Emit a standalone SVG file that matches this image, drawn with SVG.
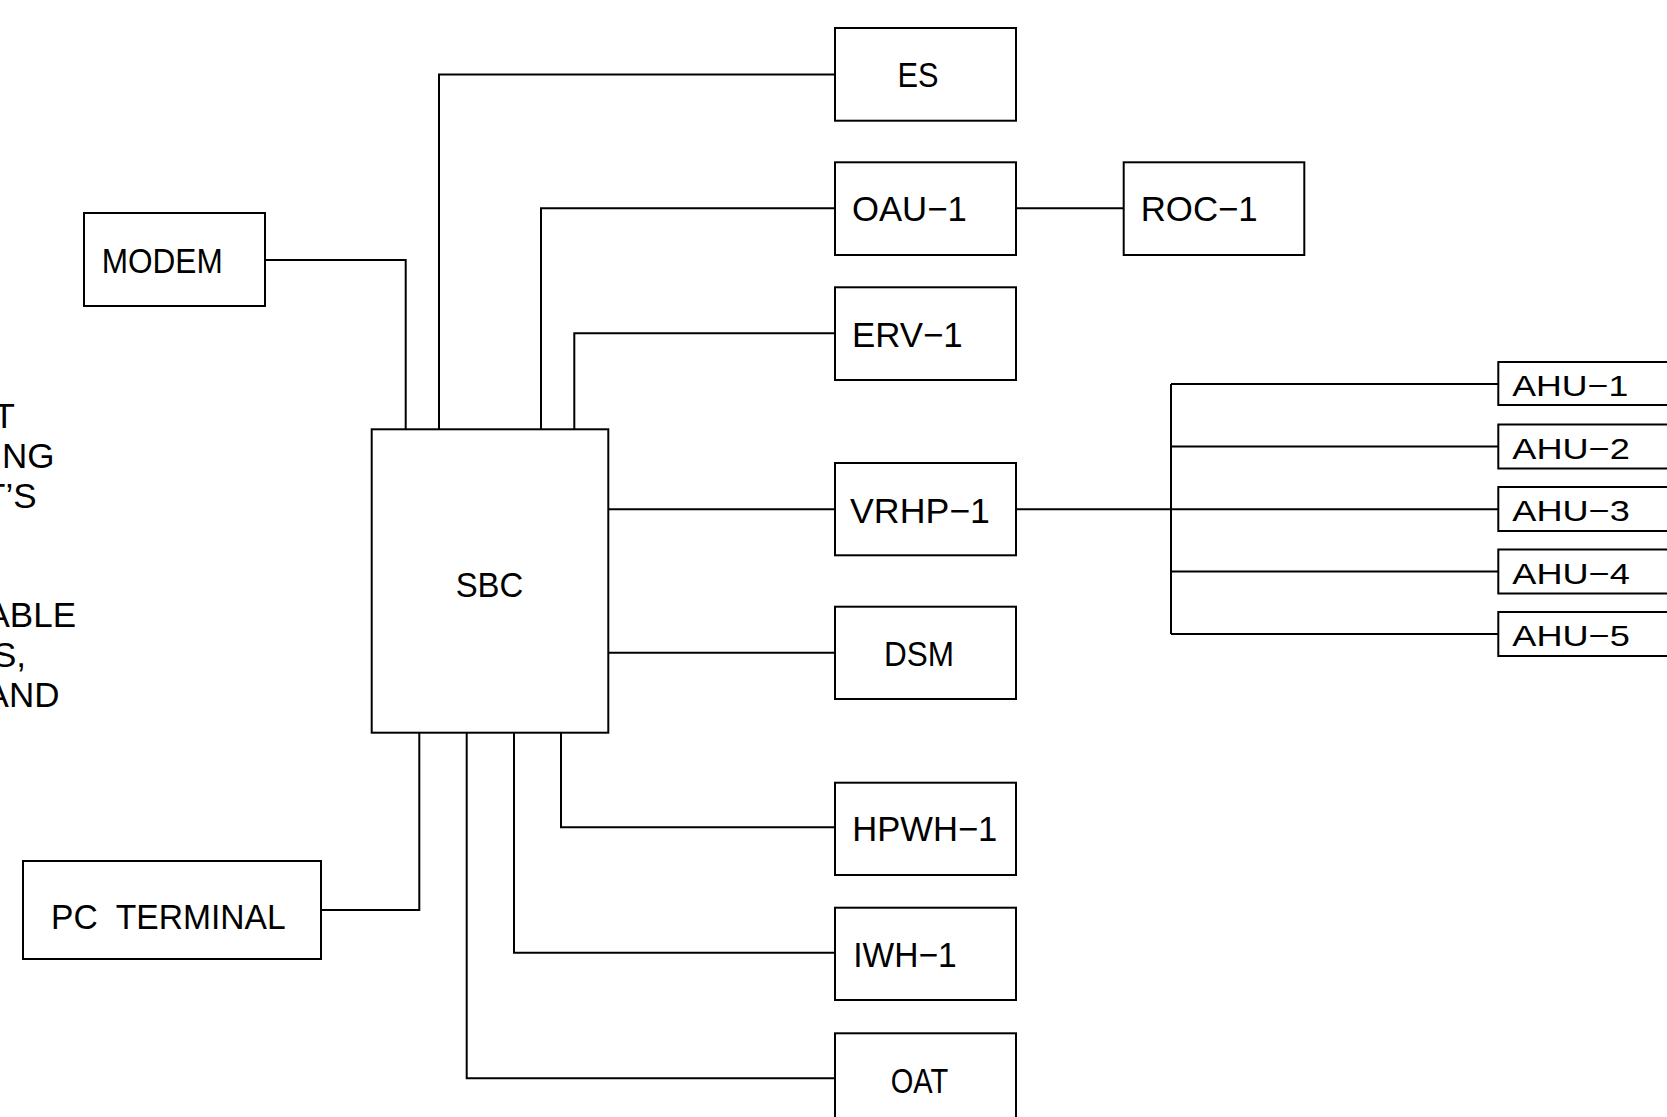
<svg xmlns="http://www.w3.org/2000/svg" width="1667" height="1117" viewBox="0 0 1667 1117">
<style>
.box{fill:#fff;stroke:#000;stroke-width:2}
.wire{fill:none;stroke:#000;stroke-width:2}
.lbl{font-family:"Liberation Sans",Arial,sans-serif;font-size:35px;fill:#000}
.sm{font-size:30px}
</style>
<rect width="1667" height="1117" fill="#fff"/>
<g id="connectors">
<polyline class="wire" points="265,260 405.7,260 405.7,429.3"/>
<polyline class="wire" points="835,74.4 439,74.4 439,429.3"/>
<polyline class="wire" points="835,208.3 541,208.3 541,429.3"/>
<polyline class="wire" points="835,333.3 574.3,333.3 574.3,429.3"/>
<line class="wire" x1="1016" y1="208.3" x2="1123.7" y2="208.3"/>
<line class="wire" x1="608.3" y1="509.3" x2="835" y2="509.3"/>
<line class="wire" x1="608.3" y1="652.7" x2="835" y2="652.7"/>
<line class="wire" x1="1016" y1="509.3" x2="1498.3" y2="509.3"/>
<line class="wire" x1="1171" y1="384" x2="1171" y2="634"/>
<line class="wire" x1="1171" y1="384" x2="1498.3" y2="384"/>
<line class="wire" x1="1171" y1="446.5" x2="1498.3" y2="446.5"/>
<line class="wire" x1="1171" y1="571.5" x2="1498.3" y2="571.5"/>
<line class="wire" x1="1171" y1="634" x2="1498.3" y2="634"/>
<polyline class="wire" points="321,910 419.3,910 419.3,732.7"/>
<polyline class="wire" points="466.7,732.7 466.7,1078.3 835,1078.3"/>
<polyline class="wire" points="514,732.7 514,952.7 835,952.7"/>
<polyline class="wire" points="561,732.7 561,827.3 835,827.3"/>
</g>
<g id="notes">
<text class="lbl" x="15" y="428" text-anchor="end">T</text>
<text class="lbl" x="54.5" y="468" text-anchor="end">ING</text>
<text class="lbl" x="36.5" y="508" text-anchor="end">T’S</text>
<text class="lbl" x="76" y="627" text-anchor="end">ABLE</text>
<text class="lbl" x="26" y="667" text-anchor="end">S,</text>
<text class="lbl" x="59.5" y="707" text-anchor="end">AND</text>
</g>
<g id="node-modem"><rect class="box" x="84" y="213" width="181" height="93"/><text class="lbl" x="101.7" y="273.3" textLength="121" lengthAdjust="spacingAndGlyphs">MODEM</text></g>
<g id="node-pc"><rect class="box" x="23" y="861" width="298" height="98"/><text class="lbl" x="51" y="929" textLength="234.7" lengthAdjust="spacingAndGlyphs" style="white-space:pre">PC  TERMINAL</text></g>
<g id="node-sbc"><rect class="box" x="371.7" y="429.3" width="236.6" height="303.4"/><text class="lbl" x="455.7" y="597.3" textLength="67.6" lengthAdjust="spacingAndGlyphs">SBC</text></g>
<g id="node-es"><rect class="box" x="835" y="28" width="181" height="92.7"/><text class="lbl" x="897.5" y="87" textLength="41" lengthAdjust="spacingAndGlyphs">ES</text></g>
<g id="node-oau1"><rect class="box" x="835" y="162.3" width="181" height="92.7"/><text class="lbl" x="852" y="220.7" textLength="114.7" lengthAdjust="spacingAndGlyphs">OAU−1</text></g>
<g id="node-roc1"><rect class="box" x="1123.7" y="162.3" width="180.6" height="92.7"/><text class="lbl" x="1140.7" y="220.7" textLength="117" lengthAdjust="spacingAndGlyphs">ROC−1</text></g>
<g id="node-erv1"><rect class="box" x="835" y="287.3" width="181" height="92.7"/><text class="lbl" x="852" y="346.7" textLength="110.7" lengthAdjust="spacingAndGlyphs">ERV−1</text></g>
<g id="node-vrhp1"><rect class="box" x="835" y="463" width="181" height="92.3"/><text class="lbl" x="850" y="522.7" textLength="140" lengthAdjust="spacingAndGlyphs">VRHP−1</text></g>
<g id="node-dsm"><rect class="box" x="835" y="606.7" width="181" height="92.3"/><text class="lbl" x="884" y="665.7" textLength="70" lengthAdjust="spacingAndGlyphs">DSM</text></g>
<g id="node-hpwh1"><rect class="box" x="835" y="782.7" width="181" height="92.3"/><text class="lbl" x="852.3" y="841" textLength="145" lengthAdjust="spacingAndGlyphs">HPWH−1</text></g>
<g id="node-iwh1"><rect class="box" x="835" y="907.7" width="181" height="92.3"/><text class="lbl" x="853.3" y="966.7" textLength="103.4" lengthAdjust="spacingAndGlyphs">IWH−1</text></g>
<g id="node-oat"><rect class="box" x="835" y="1033.3" width="181" height="92.7"/><text class="lbl" x="890.7" y="1093.3" textLength="57.6" lengthAdjust="spacingAndGlyphs">OAT</text></g>
<g id="node-ahu1"><rect class="box" x="1498.3" y="362" width="220" height="43"/><text class="lbl sm" x="1512.3" y="396" textLength="116" lengthAdjust="spacingAndGlyphs">AHU−1</text></g>
<g id="node-ahu2"><rect class="box" x="1498.3" y="424.5" width="220" height="44"/><text class="lbl sm" x="1512.3" y="458.5" textLength="117.5" lengthAdjust="spacingAndGlyphs">AHU−2</text></g>
<g id="node-ahu3"><rect class="box" x="1498.3" y="487" width="220" height="44"/><text class="lbl sm" x="1512.3" y="521" textLength="117.5" lengthAdjust="spacingAndGlyphs">AHU−3</text></g>
<g id="node-ahu4"><rect class="box" x="1498.3" y="549.5" width="220" height="44"/><text class="lbl sm" x="1512.3" y="583.5" textLength="117.5" lengthAdjust="spacingAndGlyphs">AHU−4</text></g>
<g id="node-ahu5"><rect class="box" x="1498.3" y="612" width="220" height="44"/><text class="lbl sm" x="1512.3" y="646" textLength="117.5" lengthAdjust="spacingAndGlyphs">AHU−5</text></g>
</svg>
